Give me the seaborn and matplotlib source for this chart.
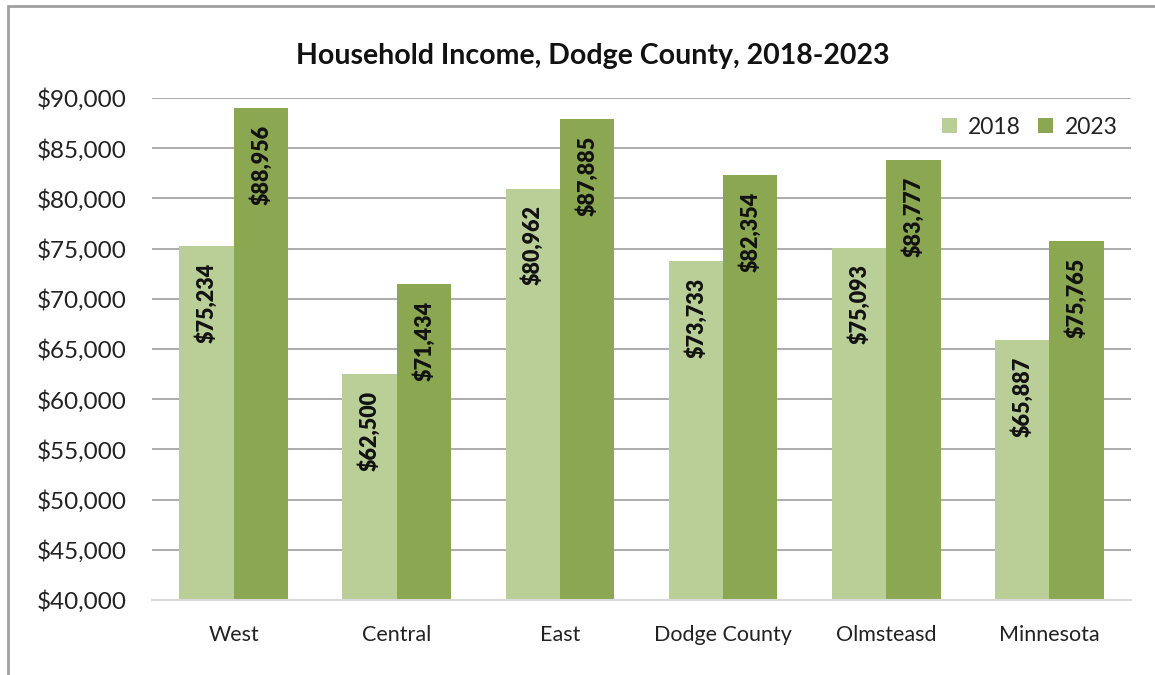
import matplotlib
matplotlib.use("Agg")
import matplotlib.pyplot as plt
import matplotlib.ticker as mticker
from matplotlib.patches import Rectangle
import seaborn as sns
import pandas as pd

# Median household income by area
regions = ["West", "Central", "East", "Dodge County", "Olmsteasd", "Minnesota"]
years = ["2018", "2023"]
income_2018 = [75234, 62500, 80962, 73733, 75093, 65887]
income_2023 = [88956, 71434, 87885, 82354, 83777, 75765]

df = pd.DataFrame({
    "Region": regions * 2,
    "Year": [years[0]] * len(regions) + [years[1]] * len(regions),
    "Income": income_2018 + income_2023,
})

sns.set_theme(style="white")
plt.rcParams["font.family"] = ["Lato", "DejaVu Sans"]

fig = plt.figure(figsize=(11.55, 6.75), dpi=100)
ax = fig.add_axes([152 / 1155, 1 - 600 / 675, (1131 - 152) / 1155, (600 - 98) / 675])

palette = {"2018": "#BACF98", "2023": "#8BA752"}
sns.barplot(data=df, x="Region", y="Income", hue="Year", hue_order=years,
            palette=palette, width=2 / 3, gap=0, saturation=1, ax=ax,
            edgecolor="none", linewidth=0, errorbar=None, legend=True)

ax.set_ylim(40000, 90000)
ax.set_xlim(-0.5, len(regions) - 0.5)
ax.yaxis.set_major_locator(mticker.MultipleLocator(5000))
ax.yaxis.set_major_formatter(mticker.StrMethodFormatter("${x:,.0f}"))
ax.grid(axis="y", color="#A6A6A6", linewidth=1.3)
ax.set_axisbelow(True)
for side in ["top", "right", "left"]:
    ax.spines[side].set_visible(False)
ax.spines["bottom"].set_color("#D9D9D9")
ax.spines["bottom"].set_linewidth(1.5)
ax.set_xlabel("")
ax.set_ylabel("")
ax.tick_params(axis="y", labelsize=17.5, colors="#222222", pad=18, length=0)
ax.tick_params(axis="x", labelsize=15.5, colors="#222222", pad=18, length=0)

# Value labels inside the top of each bar
for container in ax.containers:
    for bar in container:
        h = bar.get_height()
        ax.annotate(f"${h:,.0f}", (bar.get_x() + bar.get_width() / 2, h),
                    xytext=(0, -12), textcoords="offset points",
                    rotation=90, ha="center", va="top",
                    fontsize=15.5, fontweight="heavy", color="#111111")

leg = ax.legend(loc="upper right", bbox_to_anchor=(1.0, 0.99), ncol=2,
                frameon=False, fontsize=16.5, handlelength=0.65, handleheight=0.65,
                handletextpad=0.5, columnspacing=0.75, borderaxespad=0.2)
for t in leg.get_texts():
    t.set_color("#222222")

fig.text(593 / 1155, 1 - 56 / 675, "Household Income, Dodge County, 2018-2023",
         ha="center", va="center", fontsize=20.5, fontweight="bold", color="#111111")

# Outer chart frame
fig.patches.append(Rectangle((8 / 1155, -0.05), 1.2, 1 - 6 / 675 + 0.05,
                             transform=fig.transFigure, fill=False,
                             edgecolor="#A0A0A0", linewidth=2))

fig.savefig("out.png", dpi=100)
